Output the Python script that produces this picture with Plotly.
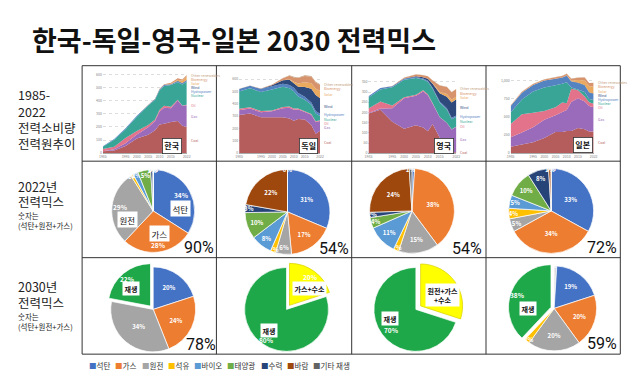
import plotly.graph_objects as go

# ---------------- data ----------------
years = [1985, 1990, 1995, 2000, 2005, 2008, 2010, 2012, 2015, 2018, 2020, 2022]
owid_sources = ["Coal", "Gas", "Oil", "Nuclear", "Hydropower", "Wind", "Solar", "Bioenergy", "Other renewables"]

kr_coal = [15, 20, 55, 112, 140, 175, 218, 224, 237, 245, 208, 200]
kr_gas = [0, 10, 21, 30, 58, 70, 100, 122, 104, 155, 152, 165]
kr_oil = [17, 19, 40, 27, 17, 11, 12, 15, 12, 6, 3, 3]
kr_nuclear = [17, 53, 67, 109, 147, 151, 149, 150, 165, 134, 160, 176]
kr_hydro = [4, 6, 6, 6, 5, 6, 7, 8, 6, 7, 7, 8]
kr_wind = [0, 0, 0, 0, 0, 0, 1, 1, 1, 3, 3, 4]
kr_solar = [0, 0, 0, 0, 0, 0, 1, 1, 4, 9, 18, 28]
kr_bio = [0, 0, 0, 0, 1, 1, 2, 4, 6, 10, 9, 10]
kr_other = [0, 0, 0, 0, 0, 0, 0, 0, 1, 1, 1, 1]

de_coal = [310, 321, 291, 291, 291, 280, 263, 277, 272, 229, 158, 181]
de_gas = [38, 40, 41, 49, 72, 88, 89, 76, 62, 83, 95, 80]
de_oil = [11, 11, 9, 6, 11, 10, 9, 8, 6, 5, 5, 5]
de_nuclear = [140, 153, 154, 170, 163, 148, 141, 99, 92, 76, 64, 35]
de_hydro = [20, 20, 24, 25, 26, 27, 27, 27, 24, 18, 19, 18]
de_wind = [0, 0, 2, 9, 27, 41, 38, 51, 80, 110, 131, 125]
de_solar = [0, 0, 0, 0, 1, 4, 12, 26, 39, 46, 50, 61]
de_bio = [1, 1, 2, 5, 15, 28, 34, 44, 50, 51, 51, 48]
de_other = [1, 1, 1, 1, 2, 4, 5, 5, 6, 6, 6, 6]

uk_coal = [195, 213, 154, 120, 137, 126, 108, 143, 76, 17, 5, 5]
uk_gas = [2, 6, 66, 149, 145, 177, 176, 100, 100, 131, 111, 125]
uk_oil = [22, 35, 14, 6, 5, 6, 5, 3, 2, 2, 1, 1]
uk_nuclear = [54, 59, 89, 85, 82, 52, 62, 70, 70, 65, 50, 48]
uk_hydro = [6, 7, 6, 5, 5, 5, 4, 5, 6, 5, 7, 6]
uk_wind = [0, 0, 0, 1, 3, 7, 10, 20, 40, 57, 75, 80]
uk_solar = [0, 0, 0, 0, 0, 0, 0, 1, 8, 13, 13, 13]
uk_bio = [0, 0, 1, 4, 9, 10, 12, 15, 30, 35, 37, 37]
uk_other = [0, 0, 0, 1, 1, 1, 1, 1, 1, 1, 1, 1]

jp_coal = [90, 120, 150, 210, 290, 290, 305, 305, 345, 330, 300, 300]
jp_gas = [130, 165, 205, 250, 230, 275, 290, 400, 410, 380, 350, 330]
jp_oil = [180, 250, 200, 120, 110, 130, 90, 180, 110, 70, 50, 50]
jp_nuclear = [159, 202, 291, 322, 305, 258, 288, 16, 9, 62, 43, 52]
jp_hydro = [88, 95, 90, 96, 86, 83, 91, 84, 91, 87, 86, 80]
jp_wind = [0, 0, 0, 0, 2, 3, 4, 5, 6, 8, 9, 9]
jp_solar = [0, 0, 0, 0, 1, 2, 3, 7, 35, 63, 80, 95]
jp_bio = [10, 12, 15, 15, 20, 20, 22, 25, 30, 40, 45, 50]
jp_other = [2, 2, 3, 3, 3, 3, 3, 3, 3, 3, 3, 3]

countries = ["한국", "독일", "영국", "일본"]
year_ticks = [1985, 1995, 2000, 2005, 2010, 2015, 2022]
kr_yticks = [0, 100, 200, 300, 400, 500, 600]
de_yticks = [0, 100, 200, 300, 400, 500, 600]
uk_yticks = [0, 50, 100, 150, 200, 250, 300, 350]
jp_yticks = [0, 250, 500, 750, 1000]

mix_categories = ["석탄", "가스", "원전", "석유", "바이오", "태양광", "수력", "바람", "기타 재생"]
kr_2022 = [34, 28, 29, 1, 2, 5, 1, 0, 0]
de_2022 = [31, 17, 6, 2, 8, 10, 3, 22, 0]
uk_2022 = [1, 38, 15, 2, 11, 4, 2, 24, 1]
jp_2022 = [33, 34, 5, 4, 5, 10, 8, 1, 0]
share_2022 = ["90%", "54%", "54%", "72%"]

kr_2030_labels = ["석탄", "가스", "원전", "재생"]
kr_2030 = [20, 24, 34, 22]
de_2030_labels = ["가스+수소", "재생"]
de_2030 = [20, 80]
uk_2030_labels = ["원전+가스+수소", "재생"]
uk_2030 = [30, 70]
jp_2030_labels = ["수소·암모니아", "석탄", "가스", "원전", "석유", "재생"]
jp_2030 = [1, 19, 20, 20, 2, 38]
share_2030 = {"한국": "78%", "일본": "59%"}

row_titles = [["1985-", "2022", "전력소비량", "전력원추이"],
              ["2022년", "전력믹스", "숫자는", "(석탄+원전+가스)"],
              ["2030년", "전력믹스", "숫자는", "(석탄+원전+가스)"]]
title_text = "한국-독일-영국-일본 2030 전력믹스"

# ---------------- styles ----------------
W, H = 640, 377
OX, OY = 8, 8   # page body margin offset
FONT = "Noto Sans CJK KR"


def px(x):
    return (x - OX) / W


def py(y):
    return 1 - (y - OY) / H


owid_colors = {"Coal": "#b55c5d", "Gas": "#9a6bba", "Oil": "#e2738a", "Nuclear": "#38a596",
               "Hydropower": "#5483c2", "Wind": "#2e4a7d", "Solar": "#e9a95e",
               "Bioenergy": "#d7936c", "Other renewables": "#c4a07e"}
mix_colors = {"석탄": "#4472c4", "가스": "#ed7d31", "원전": "#a5a5a5", "석유": "#ffc000",
              "바이오": "#5b9bd5", "태양광": "#70ad47", "수력": "#264478", "바람": "#9e480e",
              "기타 재생": "#636363", "재생": "#1fa84a", "가스+수소": "#ffff00",
              "원전+가스+수소": "#ffff00", "수소·암모니아": "#d9d9d9"}

fig = go.Figure()
ann = []
shapes = []


def note(x, y, text, size, color="#111", family=FONT, xanchor="center", **kw):
    d = dict(x=px(x), y=py(y), xref="paper", yref="paper", text=text, showarrow=False,
             xanchor=xanchor, yanchor="middle", font=dict(size=size, color=color, family=family))
    d.update(kw)
    ann.append(d)


# ---------------- row 1: stacked areas ----------------
area_data = [
    [kr_coal, kr_gas, kr_oil, kr_nuclear, kr_hydro, kr_wind, kr_solar, kr_bio, kr_other],
    [de_coal, de_gas, de_oil, de_nuclear, de_hydro, de_wind, de_solar, de_bio, de_other],
    [uk_coal, uk_gas, uk_oil, uk_nuclear, uk_hydro, uk_wind, uk_solar, uk_bio, uk_other],
    [jp_coal, jp_gas, jp_oil, jp_nuclear, jp_hydro, jp_wind, jp_solar, jp_bio, jp_other],
]
yticks_all = [kr_yticks, de_yticks, uk_yticks, jp_yticks]
y_ranges = [620, 660, 400, 1120]
x_px = [(100, 185), (238, 320), (369, 458), (513, 597)]
box_px = [(170, 147), (308, 147), (445, 147), (586, 146)]
Y_TOP, Y_BOT = 72, 154

for i, series in enumerate(area_data):
    n = i + 1
    for name, vals in zip(owid_sources, series):
        fig.add_trace(go.Scatter(x=years, y=vals, name=name, stackgroup=f"s{n}", mode="none",
                                 fillcolor=owid_colors[name], xaxis=f"x{n}", yaxis=f"y{n}",
                                 hoverinfo="skip", showlegend=False))
    x0, x1 = x_px[i]
    fig.layout[f"xaxis{n}"] = dict(domain=[px(x0), px(x1)], anchor=f"y{n}", range=[years[0], years[-1]],
                                   tickvals=year_ticks, tickfont=dict(size=3.5, color="#888", family=FONT),
                                   showgrid=False, showline=True, linecolor="#aaa", linewidth=0.5,
                                   zeroline=False, ticks="", ticklen=0)
    fig.layout[f"yaxis{n}"] = dict(domain=[py(Y_BOT), py(Y_TOP)], anchor=f"x{n}", range=[0, y_ranges[i]],
                                   tickvals=yticks_all[i], tickformat=",", ticksuffix=" TWh",
                                   tickfont=dict(size=3.5, color="#888", family=FONT),
                                   showgrid=True, gridcolor="#dddddd", gridwidth=0.5, griddash="dot",
                                   zeroline=False, showline=False, ticks="")
    # end-of-series labels (spread to avoid overlap)
    cum = 0
    mids = []
    for name, vals in zip(owid_sources, series):
        v = vals[-1]
        mids.append((Y_BOT - (cum + v / 2) / y_ranges[i] * (Y_BOT - Y_TOP), name))
        cum += v
    mids.sort()
    placed = []
    for yv, name in mids:
        if placed and yv < placed[-1][0] + 4.2:
            yv = placed[-1][0] + 4.2
        placed.append((yv, name))
    for yv, name in placed:
        note(x1 + 2, yv, name, 3.5, color=owid_colors[name], xanchor="left")
    bx, by = box_px[i]
    note(bx, by, f"<b>{countries[i]}</b>", 8, bgcolor="white", bordercolor="#333",
         borderwidth=0.8, borderpad=1.5)


# ---------------- pies ----------------
def add_pie(labels, values, cx, cy, r, pull=None, hide=()):
    mp = max(pull) if pull else 0
    R = r * (1 + mp)
    colors = [mix_colors[l] for l in labels]
    line_colors = ["#d8cf00" if mix_colors[l] == "#ffff00" else "white" for l in labels]
    texts = ["" if l in hide else f"<b>{v}%</b>" for l, v in zip(labels, values)]
    fig.add_trace(go.Pie(labels=labels, values=values, sort=False, direction="clockwise", rotation=0,
                         domain=dict(x=[px(cx - R), px(cx + R)], y=[py(cy + R), py(cy - R)]),
                         marker=dict(colors=colors, line=dict(color=line_colors, width=0.7)),
                         pull=pull if pull else 0,
                         text=texts, texttemplate="%{text}", textposition="inside",
                         insidetextorientation="horizontal",
                         insidetextfont=dict(color="white", size=6, family=FONT),
                         hoverinfo="skip", showlegend=False))


pie22_centers = [(151, 212, 42), (287, 213, 43), (413, 212, 43), (554, 212, 43)]
hide22 = [("석탄", "가스", "원전"), (), (), ()]
for (cx, cy, r), vals, hd in zip(pie22_centers, [kr_2022, de_2022, uk_2022, jp_2022], hide22):
    add_pie(mix_categories, vals, cx, cy, r, hide=hd)

add_pie(kr_2030_labels, kr_2030, 151, 311, 43, pull=[0, 0, 0, 0.1], hide=("재생",))
add_pie(de_2030_labels, de_2030, 286, 311, 42.5, pull=[0.12, 0], hide=("재생", "가스+수소"))
add_pie(uk_2030_labels, uk_2030, 417, 311, 42.5, pull=[0.14, 0], hide=("재생", "원전+가스+수소"))
add_pie(jp_2030_labels, jp_2030, 557, 310, 43, pull=[0, 0, 0, 0, 0, 0.08], hide=("재생",))

# manually placed value labels (next to the white label boxes)
manual_vals = [(180, 196, kr_2022[0]), (156, 246, kr_2022[1]), (118, 208, kr_2022[2]),
               (125, 280, kr_2030[3]), (310, 278, de_2030[0]), (266, 342, de_2030[1]),
               (392, 332, uk_2030[1]), (520, 297, jp_2030[5])]
for x, y, v in manual_vals:
    note(x, y, f"<b>{v}%</b>", 6.5, color="white")

# big share labels
share_pos_2022 = [(197, 249), (334, 250), (469, 250), (605, 249)]
for (x, y), t in zip(share_pos_2022, share_2022):
    note(x, y, t, 16, family="Roboto")
note(199, 346, share_2030["한국"], 16, family="Roboto")
note(605, 345, share_2030["일본"], 16, family="Roboto")

# white label boxes on pies
boxes = [("석탄", 179, 210, False), ("원전", 125, 221, False), ("가스", 157, 235, False),
         ("재생", 129, 290, True), ("가스+수소", 309, 290, True), ("재생", 268, 332, True),
         ("원전+가스<br>+수소", 444, 297, True), ("재생", 391, 320, True), ("재생", 531, 310, True)]
for t, x, y, bold in boxes:
    note(x, y, f"<b>{t}</b>" if bold else t, 7 if bold else 8.5, bgcolor="white", borderpad=1.5)

# ---------------- row titles ----------------
row_y = [[95, 112, 128, 144], [187, 203, 217, 227], [288, 304, 318, 328]]
for lines, ys in zip(row_titles, row_y):
    for k, (t, y) in enumerate(zip(lines, ys)):
        small = k >= 2 and lines[0] != "1985-"
        note(12, y, t, 7.5 if small else 12.5, color="#222", xanchor="left")

note(26, 40, title_text, 27, xanchor="left")
ann[-1]["font"]["weight"] = 600

# ---------------- bottom legend ----------------
lx = 84
for cat in mix_categories:
    note(lx, 367, f"<span style='color:{mix_colors[cat]}'>■</span>{cat}", 7.5, color="#333",
         xanchor="left")
    lx += 7.2 * (1 + len(cat)) + 5

# ---------------- table grid ----------------
col_x = [79, 215, 352, 488, 624]
row_yl = [66, 162, 259, 356]
for y in row_yl:
    shapes.append(dict(type="line", xref="paper", yref="paper", x0=px(col_x[0]), x1=px(col_x[-1]),
                       y0=py(y), y1=py(y), line=dict(color="#333", width=1)))
for x in col_x:
    shapes.append(dict(type="line", xref="paper", yref="paper", x0=px(x), x1=px(x),
                       y0=py(row_yl[0]), y1=py(row_yl[-1]), line=dict(color="#333", width=1)))

fig.update_layout(width=W, height=H, margin=dict(l=0, r=0, t=0, b=0),
                  paper_bgcolor="white", plot_bgcolor="white", showlegend=False,
                  annotations=ann, shapes=shapes,
                  uniformtext=dict(minsize=6, mode="show"),
                  font=dict(family=FONT))
fig.write_html("out.html")
